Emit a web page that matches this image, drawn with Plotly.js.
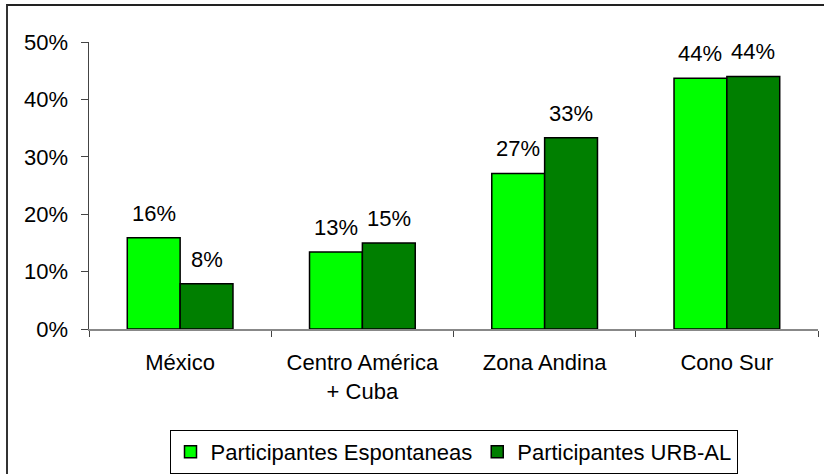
<!DOCTYPE html>
<html>
<head>
<meta charset="utf-8">
<script src="https://cdn.plot.ly/plotly-3.0.1.min.js"></script>
<style>
  html, body { margin: 0; padding: 0; background: #fff; overflow: hidden; }
  #wrap { position: relative; width: 824px; height: 474px; overflow: hidden; }
  #chart { position: absolute; left: 0; top: 0; width: 824px; height: 474px; }
  /* outer frame of the original chart: only top and left edges are inside the picture */
  #frame { position: absolute; left: 6px; top: 4px; width: 900px; height: 600px;
           border-top: 2px solid #222; border-left: 2px solid #333; pointer-events: none; }
</style>
</head>
<body>
<div id="wrap">
  <div id="chart"></div>
  <div id="frame"></div>
</div>
<script>
// Regions and shares (percent)
var regions = ["México", "Centro América<br>+ Cuba", "Zona Andina", "Cono Sur"];
var espontaneas = [15.9, 13.4, 27.1, 43.7];
var urbal = [7.9, 15.0, 33.3, 44.0];
var seriesNames = ["Participantes Espontaneas", "Participantes URB-AL"];

var font = {family: "Liberation Sans, Arial, sans-serif", size: 22, color: "#000"};

var traces = [
    {
        x: regions, y: espontaneas, name: seriesNames[0], type: "bar",
        marker: {color: "#00FF00", line: {color: "#000", width: 1.5}},
        hoverinfo: "skip"
    },
    {
        x: regions, y: urbal, name: seriesNames[1], type: "bar",
        marker: {color: "#007F00", line: {color: "#000", width: 1.5}},
        hoverinfo: "skip"
    }
];

// value labels above each bar
var labels = [];
[espontaneas, urbal].forEach(function (vals, s) {
    vals.forEach(function (v, i) {
        labels.push({
            x: regions[i], y: v, xref: "x", yref: "y",
            text: Math.round(v) + "%", showarrow: false,
            yanchor: "bottom", xanchor: "center",
            xshift: s === 0 ? -26.5 : 26.5, yshift: 10,
            font: font
        });
    });
});

var layout = {
    width: 824, height: 474,
    margin: {l: 89, r: 6, t: 42, b: 145},
    paper_bgcolor: "#fff", plot_bgcolor: "#fff",
    font: font,
    barmode: "group", bargap: 0.42, bargroupgap: 0,
    showlegend: true,
    legend: {
        orientation: "h", xref: "paper", x: 0.5, xanchor: "center",
        yref: "container", y: 0.093, yanchor: "top",
        bordercolor: "#000", borderwidth: 1, bgcolor: "#fff",
        font: font, traceorder: "normal"
    },
    xaxis: {
        type: "category", tickson: "boundaries", ticks: "outside", ticklen: 6,
        tickcolor: "#444", showline: true, linecolor: "#888", linewidth: 1.5,
        showgrid: false, zeroline: false, ticklabelstandoff: 13, tickfont: font,
        automargin: false
    },
    yaxis: {
        range: [0, 50], dtick: 10, ticksuffix: "%", ticks: "outside", ticklen: 7,
        tickcolor: "#444", showline: true, linecolor: "#444", linewidth: 1.5,
        showgrid: false, zeroline: false, ticklabelstandoff: 8, tickfont: font,
        automargin: false
    },
    annotations: labels
};

Plotly.newPlot("chart", traces, layout, {staticPlot: true});
</script>
</body>
</html>
